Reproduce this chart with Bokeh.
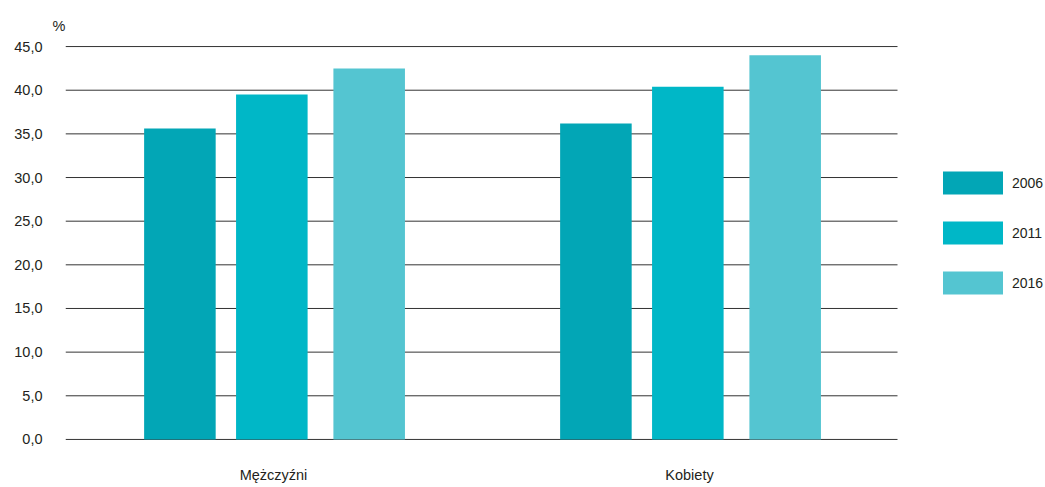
from bokeh.plotting import figure
from bokeh.models import (ColumnDataSource, Range1d, FixedTicker, Legend, LegendItem, Title)
from bokeh.transform import dodge
from bokeh.embed import file_html
from bokeh.resources import INLINE

# ---- data ----
categories = ["Mężczyźni", "Kobiety"]
years = ["2006", "2011", "2016"]
v2006 = [35.6, 36.2]
v2011 = [39.5, 40.4]
v2016 = [42.5, 44.0]
y_ticks = [0, 5, 10, 15, 20, 25, 30, 35, 40, 45]
y_tick_labels = ["0,0", "5,0", "10,0", "15,0", "20,0", "25,0", "30,0", "35,0", "40,0", "45,0"]
unit_label = "%"

# ---- style ----
colors = ["#02a6b6", "#00b7c7", "#54c5d1"]
FONT = "Liberation Sans"
TXT = "#231f20"
GRID = "#333333"

W, H = 1045, 487
FRAME_L, FRAME_T, FRAME_B = 65, 45, 440
GRID_RIGHT = 897                     # where the plot area (gridlines) ends
n = len(categories)
x_end = n * (W - FRAME_L) / (GRID_RIGHT - FRAME_L)

xc = [i + 0.5 for i in range(n)]
src = ColumnDataSource(dict(xc=xc, y2006=v2006, y2011=v2011, y2016=v2016))

p = figure(width=W, height=H, output_backend="svg", toolbar_location=None,
           x_range=Range1d(0, x_end), y_range=Range1d(-0.12, 45.12),
           min_border_left=FRAME_L, min_border_right=0,
           min_border_top=FRAME_T, min_border_bottom=H - FRAME_B)
p.outline_line_color = None
p.background_fill_color = "white"
p.border_fill_color = "white"
p.xgrid.grid_line_color = None
p.ygrid.grid_line_color = None

# horizontal gridlines, only across the category area
grid_src = ColumnDataSource(dict(y=y_ticks, x0=[0] * len(y_ticks), x1=[n] * len(y_ticks)))
p.segment(x0="x0", x1="x1", y0="y", y1="y", source=grid_src,
          line_color=GRID, line_width=1)

offsets = [-0.225, -0.004, 0.230]
renderers = []
for yr, off, col in zip(years, offsets, colors):
    r = p.vbar(x=dodge("xc", off), top="y" + yr, width=0.172,
               source=src, fill_color=col, line_color=None)
    renderers.append(r)

# axes
p.yaxis.ticker = FixedTicker(ticks=y_ticks)
p.yaxis.major_label_overrides = {t: l for t, l in zip(y_ticks, y_tick_labels)}
p.yaxis.axis_line_color = None
p.yaxis.major_tick_line_color = None
p.yaxis.minor_tick_line_color = None
p.yaxis.major_tick_out = 0
p.yaxis.major_tick_in = 0
p.yaxis.major_label_standoff = 23
p.yaxis.major_label_text_font = FONT
p.yaxis.major_label_text_font_size = "14.5px"
p.yaxis.major_label_text_color = TXT

p.xaxis.ticker = FixedTicker(ticks=xc)
p.xaxis.major_label_overrides = {x: c for x, c in zip(xc, categories)}
p.xaxis.axis_line_color = None
p.xaxis.major_tick_line_color = None
p.xaxis.minor_tick_line_color = None
p.xaxis.major_tick_out = 0
p.xaxis.major_tick_in = 0
p.xaxis.major_label_standoff = 26
p.xaxis.major_label_text_font = FONT
p.xaxis.major_label_text_font_size = "14.5px"
p.xaxis.major_label_text_color = TXT

# unit label
p.add_layout(Title(text=unit_label, align="left", offset=-13, text_font=FONT,
                   text_font_size="14.5px", text_font_style="normal",
                   text_line_height=0.5,
                   text_color=TXT, standoff=23), "above")

# legend
legend = Legend(items=[LegendItem(label=yr, renderers=[r]) for yr, r in zip(years, renderers)],
                location=(870, 143), orientation="vertical",
                glyph_width=75, glyph_height=29, label_height=29, spacing=21,
                label_standoff=2, padding=0, margin=0, border_line_color=None,
                background_fill_alpha=0,
                label_text_font=FONT, label_text_font_size="14px", label_text_color=TXT)
p.add_layout(legend, "center")

open("out.html", "w").write(file_html(p, INLINE))
